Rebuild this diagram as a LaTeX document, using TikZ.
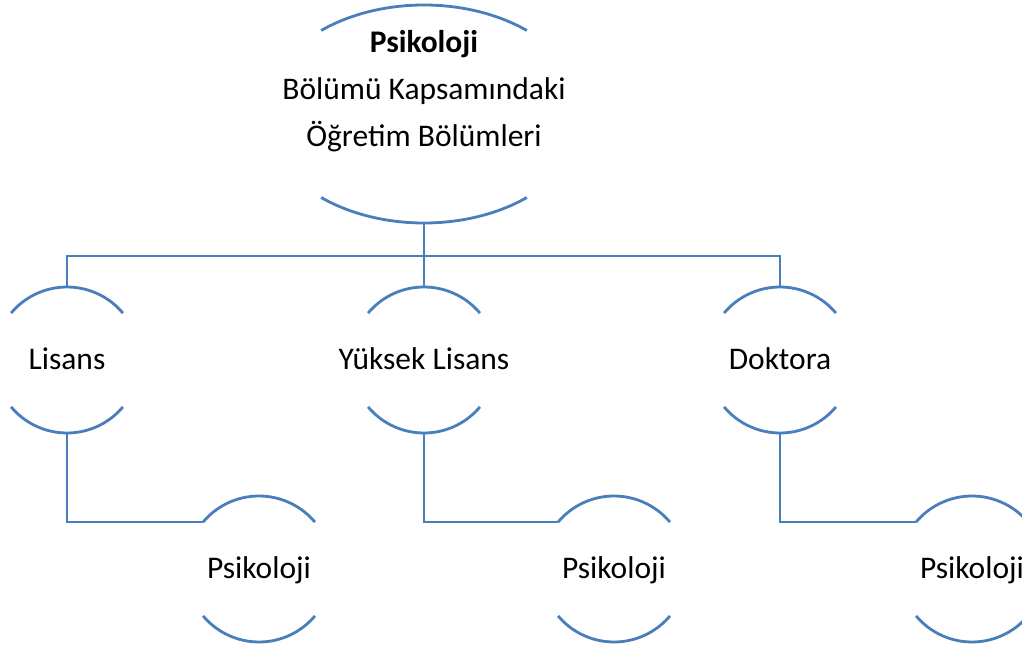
\documentclass[tikz,border=0pt]{standalone}
\usepackage{fontspec}
\setmainfont{Carlito}
\usetikzlibrary{shapes.geometric}
\definecolor{arcblue}{HTML}{4A7EBB}
\newcommand{\lbl}[1]{\makebox[0pt]{#1}}
\begin{document}
\begin{tikzpicture}[x=1pt,y=1pt]
\useasboundingbox (0,0) rectangle (1022,646);
\tikzstyle{v}=[circle,inner sep=0pt,outer sep=0pt,minimum size=146pt,text height=18pt,text depth=0pt,font=\fontsize{31.5}{47}\selectfont]
\tikzstyle{con}=[draw=arcblue,line width=2.8pt]

\node[ellipse,inner sep=0pt,outer sep=0pt,minimum width=320pt,minimum height=218pt] (top) at (424,532) {};
\node[align=center,font=\fontsize{31.5}{47}\selectfont] (title) at (424,555) {\textbf{Psikoloji}\\Bölümü Kapsamındaki\\Öğretim Bölümleri};

\node[v] (lis) at (67,286) {\lbl{Lisans}};
\node[v] (yl) at (424,286) {\lbl{Yüksek Lisans}};
\node[v] (dok) at (780,286) {\lbl{Doktora}};

\node[v] (p1) at (259,77) {\lbl{Psikoloji}};
\node[v] (p2) at (614,77) {\lbl{Psikoloji}};
\node[v] (p3) at (972,77) {\lbl{Psikoloji}};

% arcs of the shapes
\draw[con] ([shift={(50:160pt and 109pt)}]top.center) arc[start angle=50,end angle=130,x radius=160pt,y radius=109pt];
\draw[con] ([shift={(230:160pt and 109pt)}]top.center) arc[start angle=230,end angle=310,x radius=160pt,y radius=109pt];
\foreach \n in {lis,yl,dok,p1,p2,p3}{
  \draw[con] (\n.40) arc[start angle=40,end angle=140,radius=73pt];
  \draw[con] (\n.220) arc[start angle=220,end angle=320,radius=73pt];
}

\draw[con] (top.south) -- ++(0,-33) coordinate (bus);
\draw[con] (bus) -| (lis.north);
\draw[con] (bus) -| (dok.north);
\draw[con] (bus) -- (yl.north);

\draw[con] (lis.south) |- (p1.140);
\draw[con] (yl.south) |- (p2.140);
\draw[con] (dok.south) |- (p3.140);
\end{tikzpicture}
\end{document}
